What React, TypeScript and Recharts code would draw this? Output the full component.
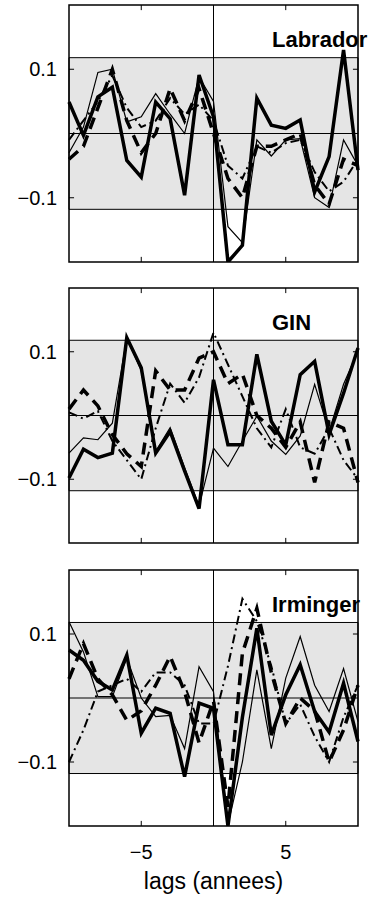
import React from 'react'
import {
  LineChart,
  Line,
  XAxis,
  YAxis,
  ReferenceArea,
  ReferenceLine,
} from 'recharts'

// lags in years
const lags = [-10, -9, -8, -7, -6, -5, -4, -3, -2, -1, 0, 1, 2, 3, 4, 5, 6, 7, 8, 9, 10]
const xTicks = [-5, 5]
const yTicks = [-0.1, 0.1]
const bandLimit = 0.118

const labradorThick = [0.049, -0.003, 0.057, 0.072, -0.042, -0.068, 0.049, 0.023, -0.096, 0.091, 0.026, -0.2, -0.174, 0.055, 0.013, 0.008, 0.021, -0.091, -0.036, 0.13, -0.057]
const labradorThin = [-0.03, 0.01, 0.095, 0.1, 0.018, 0.026, 0.062, 0.03, 0.0, 0.088, 0.05, -0.145, -0.17, -0.01, -0.035, -0.01, -0.008, -0.1, -0.115, -0.01, -0.05]
const labradorDashed = [-0.04, -0.02, 0.04, 0.1, 0.02, -0.03, 0.0, 0.07, 0.02, 0.07, 0.0, -0.07, -0.1, -0.02, -0.02, -0.01, 0.0, -0.08, -0.11, -0.04, -0.05]
const labradorDashDot = [-0.01, 0.02, 0.05, 0.09, 0.04, 0.01, 0.02, 0.055, 0.03, 0.045, 0.02, -0.05, -0.07, -0.02, -0.03, -0.015, -0.01, -0.06, -0.09, -0.075, -0.04]

const ginThick = [-0.098, -0.053, -0.066, -0.059, 0.122, 0.075, -0.059, -0.025, -0.087, -0.146, 0.056, -0.046, -0.046, 0.096, -0.009, -0.046, 0.064, 0.085, -0.03, 0.035, 0.106]
const ginThin = [-0.059, -0.035, -0.038, -0.012, 0.122, 0.07, -0.056, -0.019, -0.082, -0.142, -0.051, -0.08, -0.04, -0.001, -0.04, -0.061, -0.032, 0.049, -0.025, 0.049, 0.101]
const ginDashed = [0.01, 0.04, 0.015, -0.03, -0.06, -0.08, 0.07, 0.04, 0.04, 0.09, 0.1, 0.05, 0.065, 0.0, -0.02, -0.05, -0.01, -0.105, -0.01, -0.02, -0.105]
const ginDashDot = [0.005, -0.005, 0.007, -0.04, -0.07, -0.1, -0.02, 0.05, 0.02, 0.06, 0.13, 0.08, 0.03, -0.02, -0.05, 0.01, -0.05, -0.06, -0.02, -0.07, -0.1]

const irmingerThick = [0.075, 0.059, 0.026, 0.0125, 0.067, -0.055, -0.016, -0.024, -0.123, -0.008, -0.016, -0.2, -0.03, 0.109, -0.058, 0.005, 0.052, -0.021, -0.053, 0.023, -0.068]
const irmingerThin = [0.119, 0.072, 0.002, 0.002, 0.062, 0.0, -0.029, -0.027, -0.079, 0.049, 0.01, -0.198, -0.1, 0.044, -0.079, 0.031, 0.096, 0.02, -0.021, 0.046, -0.037]
const irmingerDashed = [0.03, 0.085, 0.03, 0.005, -0.035, -0.02, 0.02, 0.065, 0.01, -0.07, -0.005, -0.17, 0.07, 0.14, 0.04, -0.04, 0.0, -0.02, -0.1, -0.05, 0.02]
const irmingerDashDot = [-0.1, -0.05, 0.01, 0.02, 0.03, 0.01, 0.04, 0.04, 0.02, -0.04, -0.04, 0.05, 0.155, 0.12, 0.05, -0.04, -0.01, -0.06, -0.1, -0.03, 0.02]

const font = 'Liberation Sans, Arial, Helvetica, sans-serif'
const minus = (v: number) => (v < 0 ? '\u2212' + String(Math.abs(v)) : String(v))

function rows(a: number[], b: number[], c: number[], d: number[]) {
  return lags.map((lag, i) => ({ lag, a: a[i], b: b[i], c: c[i], d: d[i] }))
}

const panels = [
  { name: 'Labrador', data: rows(labradorThick, labradorThin, labradorDashed, labradorDashDot), top: 0, plotH: 257 },
  { name: 'GIN', data: rows(ginThick, ginThin, ginDashed, ginDashDot), top: 283, plotH: 255 },
  { name: 'Irminger', data: rows(irmingerThick, irmingerThin, irmingerDashed, irmingerDashDot), top: 565, plotH: 256 },
]

function Panel({ data, plotH, last }: { data: any[]; plotH: number; last: boolean }) {
  const axisH = last ? 63 : 0
  const height = 5 + plotH + axisH + (last ? 5 : 8)
  const tx = 0.35
  const ty = 0.008
  return (
    <LineChart
      width={377}
      height={height}
      data={data}
      margin={{ top: 5, right: 19, bottom: last ? 5 : 8, left: 0 }}
    >
      <XAxis
        dataKey="lag"
        type="number"
        domain={[-10, 10]}
        ticks={xTicks}
        hide={!last}
        height={axisH}
        axisLine={false}
        tickLine={false}
        tickSize={6}
        tickMargin={13}
        tickFormatter={minus}
        tick={{ fill: '#000', fontSize: 20, fontFamily: font }}
        label={{ value: 'lags (annees)', position: 'insideBottom', offset: 0, fill: '#000', fontSize: 23, fontFamily: font }}
      />
      <YAxis
        type="number"
        domain={[-0.2, 0.2]}
        ticks={yTicks}
        width={69}
        axisLine={false}
        tickLine={false}
        tickSize={6}
        tickMargin={6}
        tickFormatter={minus}
        allowDataOverflow
        tick={{ fill: '#000', fontSize: 20, fontFamily: font }}
      />
      <ReferenceArea x1={-10} x2={10} y1={-bandLimit} y2={bandLimit} fill="#e5e5e5" fillOpacity={1} stroke="#000" strokeWidth={1} />
      <ReferenceLine y={0} stroke="#000" strokeWidth={1} />
      <ReferenceLine x={0} stroke="#000" strokeWidth={1} />
      {xTicks.map(t => (
        <ReferenceLine key={'b' + t} segment={[{ x: t, y: -0.2 }, { x: t, y: -0.2 + ty }]} stroke="#000" />
      ))}
      {xTicks.map(t => (
        <ReferenceLine key={'t' + t} segment={[{ x: t, y: 0.2 }, { x: t, y: 0.2 - ty }]} stroke="#000" />
      ))}
      {yTicks.map(t => (
        <ReferenceLine key={'l' + t} segment={[{ x: -10, y: t }, { x: -10 + tx, y: t }]} stroke="#000" />
      ))}
      {yTicks.map(t => (
        <ReferenceLine key={'r' + t} segment={[{ x: 10, y: t }, { x: 10 - tx, y: t }]} stroke="#000" />
      ))}
      <Line type="linear" dataKey="d" stroke="#000" strokeWidth={2} strokeDasharray="9 4 2 4" dot={false} isAnimationActive={false} />
      <Line type="linear" dataKey="c" stroke="#000" strokeWidth={3.5} strokeDasharray="12 7" dot={false} isAnimationActive={false} />
      <Line type="linear" dataKey="b" stroke="#000" strokeWidth={1.2} dot={false} isAnimationActive={false} />
      <Line type="linear" dataKey="a" stroke="#000" strokeWidth={3.5} dot={false} isAnimationActive={false} />
      <ReferenceArea x1={-10} x2={10} y1={-0.2} y2={0.2} fill="none" stroke="#000" strokeWidth={1.5} />
    </LineChart>
  )
}

export default function App() {
  return (
    <div style={{ position: 'absolute', left: 0, top: 0, width: 377, height: 899, background: '#fff' }}>
      {panels.map((p, i) => (
        <div key={p.name} style={{ position: 'absolute', left: 0, top: p.top }}>
          <Panel data={p.data} plotH={p.plotH} last={i === panels.length - 1} />
        </div>
      ))}
      <svg width={377} height={899} style={{ position: 'absolute', left: 0, top: 0, pointerEvents: 'none' }}>
        {panels.map(p => (
          <text key={p.name} x={272} y={p.top + 47} fontFamily={font} fontWeight="bold" fontSize={22} fill="#000">
            {p.name}
          </text>
        ))}
      </svg>
    </div>
  )
}
